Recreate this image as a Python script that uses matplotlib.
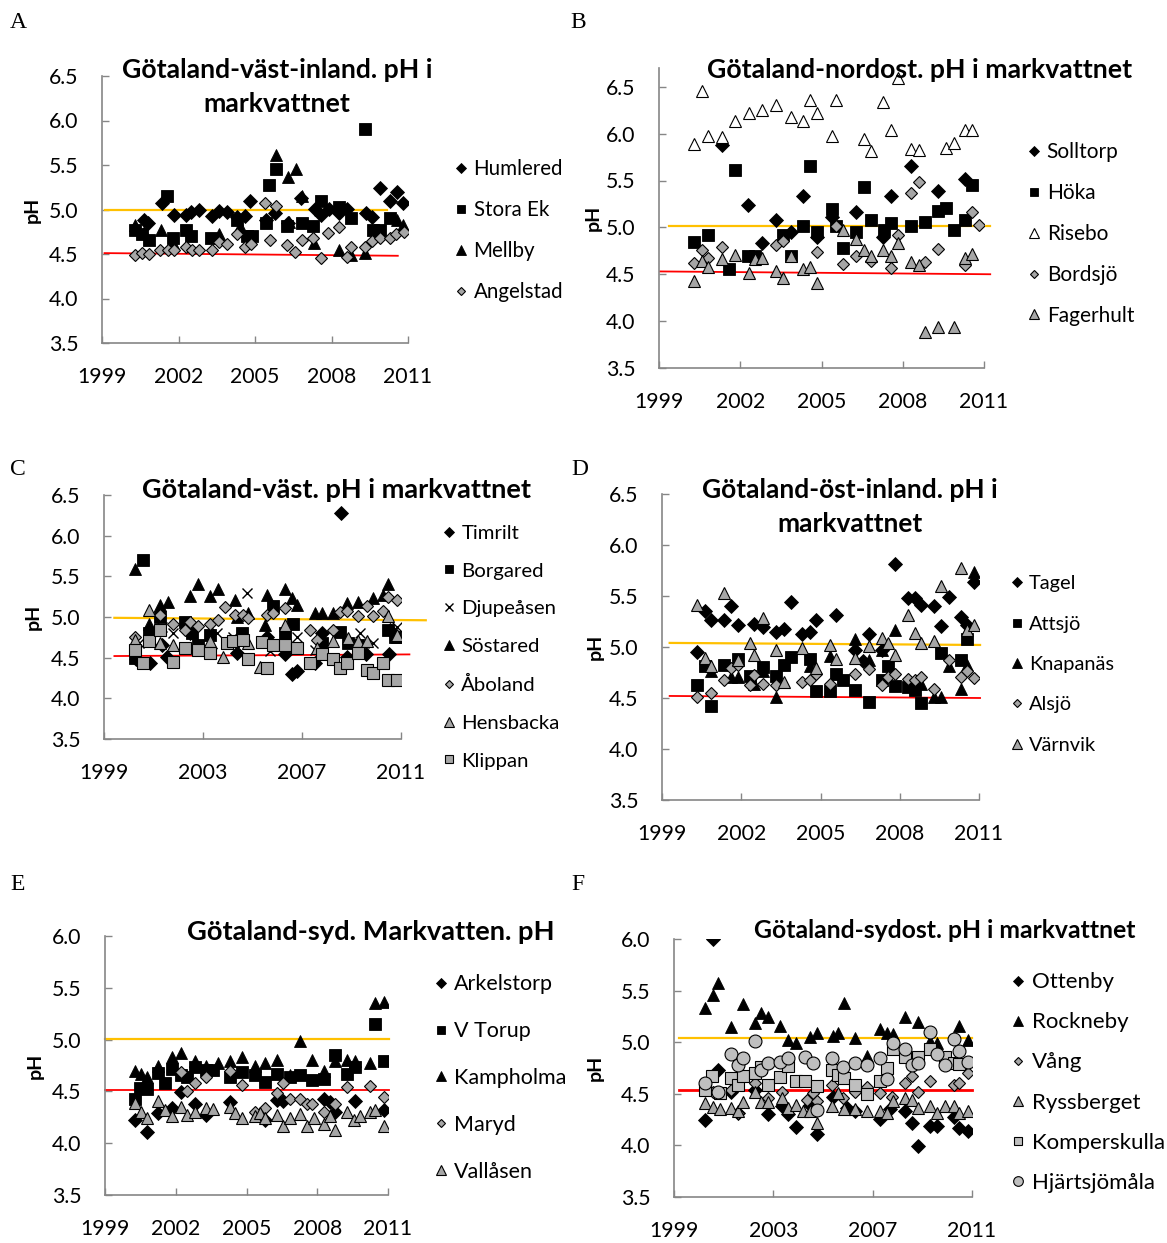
import matplotlib

matplotlib.use('Agg')
import matplotlib.pyplot as plt

plt.rcParams['font.family'] = ['Lato', 'DejaVu Sans']

# ---------------- data (year, pH) ----------------
# A: Götaland-väst-inland
a_humlered_x = [2000.63, 2000.8, 2001.35, 2001.83, 2002.3, 2002.5, 2002.8, 2003.3, 2003.6, 2003.9,
                2004.3, 2004.6, 2004.8, 2005.45, 2005.8, 2006.3, 2006.8, 2007.35, 2007.6, 2007.9,
                2008.3, 2008.6, 2009.35, 2009.6, 2009.9, 2010.3, 2010.55, 2010.8]
a_humlered_y = [4.88, 4.85, 5.07, 4.94, 4.94, 4.97, 5.0, 4.93, 4.98, 4.97,
                4.92, 4.93, 5.09, 4.88, 4.96, 4.85, 5.13, 5.01, 4.94, 5.01,
                4.96, 5.01, 4.96, 4.92, 5.24, 5.09, 5.2, 5.07]
a_storaek_x = [2000.3, 2000.56, 2000.83, 2001.55, 2001.8, 2002.3, 2002.5, 2003.27, 2004.3, 2004.67,
               2004.87, 2005.45, 2005.56, 2005.82, 2006.26, 2006.83, 2007.28, 2007.57, 2008.3, 2008.78,
               2009.3, 2009.63, 2009.9, 2010.28]
a_storaek_y = [4.77, 4.73, 4.66, 5.15, 4.68, 4.77, 4.70, 4.68, 4.88, 4.70,
               4.70, 4.85, 5.27, 5.45, 4.81, 4.85, 4.81, 5.09, 5.03, 4.90,
               5.91, 4.77, 4.77, 4.90]
a_mellby_x = [2000.3, 2000.63, 2001.3, 2001.8, 2003.57, 2004.4, 2005.82, 2006.3, 2006.6, 2006.34,
              2006.83, 2007.3, 2008.3, 2008.78, 2009.3, 2010.55, 2010.8]
a_mellby_y = [4.83, 4.75, 4.77, 4.62, 4.72, 4.81, 5.61, 5.37, 5.46, 4.86,
              5.15, 4.62, 4.55, 4.49, 4.51, 4.88, 4.83]
a_angelstad_x = [2000.3, 2000.56, 2000.83, 2001.28, 2001.6, 2001.83, 2002.29, 2002.52, 2002.82, 2003.3,
                 2003.6, 2003.9, 2004.3, 2004.6, 2004.83, 2005.4, 2005.6, 2005.82, 2006.26, 2006.56,
                 2006.83, 2007.28, 2007.57, 2007.87, 2008.3, 2008.59, 2008.78, 2009.3, 2009.6, 2009.9,
                 2010.28, 2010.54, 2010.83]
a_angelstad_y = [4.49, 4.51, 4.50, 4.55, 4.55, 4.55, 4.58, 4.55, 4.55, 4.55,
                 4.64, 4.61, 4.72, 4.58, 4.61, 5.07, 4.66, 5.04, 4.60, 4.52,
                 4.66, 4.68, 4.46, 4.74, 4.80, 4.47, 4.58, 4.58, 4.65, 4.68,
                 4.68, 4.72, 4.75]
a_orange_x, a_orange_y = [1999.13, 2010.19], [5.0, 5.0]
a_red_x, a_red_y = [1999.1, 2010.6], [4.51, 4.48]

# B: Götaland-nordost
b_solltorp_x = [2001.31, 2002.3, 2002.79, 2003.32, 2003.86, 2004.3, 2004.82, 2005.37, 2006.27, 2007.27,
                2007.58, 2008.3, 2009.3, 2010.29]
b_solltorp_y = [5.88, 5.24, 4.83, 5.08, 4.95, 5.34, 4.90, 5.11, 5.16, 4.90,
                5.34, 5.65, 5.39, 5.52]
b_hoka_x = [2000.29, 2000.8, 2001.58, 2001.8, 2002.3, 2002.54, 2003.59, 2003.86, 2004.3, 2004.57,
            2004.82, 2005.37, 2005.55, 2005.8, 2006.29, 2006.56, 2006.81, 2007.3, 2007.58, 2008.3,
            2008.81, 2009.3, 2009.59, 2009.88, 2010.29, 2010.54]
b_hoka_y = [4.84, 4.92, 4.56, 5.61, 4.70, 4.69, 4.92, 4.70, 5.01, 5.65,
            4.95, 5.20, 5.02, 4.78, 4.95, 5.43, 5.08, 4.97, 5.05, 5.01,
            5.06, 5.18, 5.21, 4.97, 5.08, 5.45]
b_risebo_x = [2000.29, 2000.57, 2000.82, 2001.31, 2001.8, 2002.33, 2002.82, 2003.32, 2003.86, 2004.3,
              2004.57, 2004.82, 2005.37, 2005.55, 2006.56, 2006.81, 2007.27, 2007.58, 2007.83, 2008.3,
              2008.6, 2009.59, 2009.88, 2010.29, 2010.54]
b_risebo_y = [5.89, 6.45, 5.97, 5.96, 6.13, 6.22, 6.25, 6.31, 6.18, 6.13,
              6.36, 6.22, 5.98, 6.36, 5.94, 5.81, 6.34, 6.04, 6.59, 5.84,
              5.83, 5.85, 5.90, 6.04, 6.04]
b_bordsjo_x = [2000.29, 2000.57, 2000.82, 2001.31, 2003.32, 2003.59, 2004.82, 2005.55, 2005.8, 2006.29,
               2006.81, 2007.58, 2007.83, 2008.3, 2008.6, 2008.81, 2009.3, 2010.29, 2010.54, 2010.82]
b_bordsjo_y = [4.62, 4.76, 4.67, 4.79, 4.81, 4.85, 4.74, 5.02, 4.61, 4.70,
               4.64, 4.57, 4.92, 5.37, 5.48, 4.63, 4.77, 4.60, 5.16, 5.03]
b_fagerhult_x = [2000.29, 2000.57, 2000.82, 2001.31, 2001.8, 2002.33, 2002.54, 2002.82, 2003.32, 2003.59,
                 2003.86, 2004.3, 2004.57, 2004.82, 2005.8, 2006.29, 2006.56, 2006.81, 2007.27, 2007.58,
                 2007.83, 2008.3, 2008.6, 2008.81, 2009.3, 2009.88, 2010.29, 2010.54]
b_fagerhult_y = [4.43, 4.64, 4.58, 4.66, 4.71, 4.51, 4.66, 4.67, 4.54, 4.46,
                 4.70, 4.56, 4.58, 4.41, 4.97, 4.88, 4.76, 4.69, 4.76, 4.70,
                 4.83, 4.63, 4.60, 3.88, 3.94, 3.94, 4.67, 4.72]
b_orange_x, b_orange_y = [1999.38, 2011.23], [5.02, 5.02]
b_red_x, b_red_y = [1999.04, 2011.23], [4.53, 4.50]

# C: Götaland-väst
c_timrilt_x = [2000.3, 2000.86, 2001.33, 2001.53, 2002.47, 2003.3, 2004.36, 2005.57, 2006.31, 2006.58,
               2006.78, 2007.52, 2007.8, 2008.56, 2008.8, 2009.6, 2010.5, 2010.55]
c_timrilt_y = [4.48, 4.43, 4.66, 4.51, 4.80, 4.62, 4.56, 4.76, 4.54, 4.30,
               4.33, 4.43, 4.80, 6.28, 4.51, 4.55, 4.55, 4.84]
c_borgared_x = [2000.25, 2000.56, 2000.8, 2001.26, 2002.27, 2002.54, 2002.81, 2003.28, 2003.95, 2004.56,
                2005.81, 2006.31, 2006.65, 2007.8, 2008.54, 2008.87, 2009.27, 2010.49, 2010.76]
c_borgared_y = [4.49, 5.70, 4.80, 5.00, 4.94, 4.80, 4.66, 4.78, 4.68, 4.80,
                5.13, 4.80, 4.92, 4.68, 4.82, 4.68, 4.66, 4.84, 4.76]
c_djupeasen_x = [2000.4, 2001.33, 2001.8, 2003.55, 2004.22, 2004.76, 2005.7, 2006.78, 2007.52, 2009.34,
                 2009.88, 2010.82]
c_djupeasen_y = [4.68, 4.88, 4.80, 4.80, 4.76, 5.29, 4.58, 4.76, 4.60, 4.80,
                 4.68, 4.88]
c_sostared_x = [2000.25, 2000.8, 2001.26, 2001.6, 2002.47, 2002.81, 2003.28, 2003.62, 2004.29, 2004.36,
                2004.83, 2005.5, 2005.57, 2006.31, 2006.58, 2006.78, 2007.52, 2007.8, 2008.27, 2008.8,
                2009.27, 2009.88, 2010.29, 2010.49, 2010.82]
c_sostared_y = [5.59, 4.92, 5.15, 5.18, 5.26, 5.40, 5.26, 5.35, 5.21, 5.00,
                5.05, 4.90, 5.27, 5.35, 5.23, 5.15, 5.05, 5.05, 5.05, 5.17,
                5.19, 5.23, 5.27, 5.40, 4.76]
c_aboland_x = [2000.25, 2001.26, 2001.8, 2002.27, 2002.47, 2002.81, 2003.28, 2003.62, 2003.89, 2004.29,
               2004.6, 2004.83, 2005.57, 2005.84, 2006.31, 2007.32, 2007.59, 2008.27, 2008.54, 2008.8,
               2009.27, 2009.61, 2009.88, 2010.29, 2010.49, 2010.82]
c_aboland_y = [4.76, 5.03, 4.92, 4.84, 4.94, 4.89, 4.92, 4.96, 5.12, 5.02,
               5.02, 4.99, 5.02, 5.05, 5.11, 4.84, 4.72, 4.84, 5.06, 5.07,
               5.01, 5.14, 5.01, 5.07, 5.25, 5.21]
c_hensbacka_x = [2000.25, 2000.8, 2001.26, 2001.8, 2003.28, 2003.82, 2004.83, 2005.3, 2006.31, 2007.59,
                 2008.27, 2008.87, 2009.27, 2009.61, 2010.49, 2010.82]
c_hensbacka_y = [4.72, 5.08, 4.68, 4.66, 4.70, 4.51, 4.68, 4.39, 4.90, 4.62,
                 4.70, 4.74, 4.70, 4.70, 5.01, 4.78]
c_klippan_x = [2000.25, 2000.59, 2000.8, 2001.26, 2001.78, 2002.27, 2002.81, 2003.28, 2003.95, 2004.22,
               2004.6, 2004.83, 2005.37, 2005.57, 2005.84, 2006.31, 2006.78, 2007.32, 2007.8, 2008.27,
               2008.54, 2008.8, 2009.27, 2009.61, 2009.88, 2010.29, 2010.49, 2010.82]
c_klippan_y = [4.60, 4.43, 4.70, 4.84, 4.45, 4.62, 4.60, 4.56, 4.68, 4.70,
               4.72, 4.48, 4.69, 4.37, 4.66, 4.66, 4.62, 4.44, 4.54, 4.48,
               4.37, 4.43, 4.56, 4.35, 4.31, 4.44, 4.23, 4.22]
c_orange_x, c_orange_y = [1999.42, 2012.0], [4.99, 4.96]
c_red_x, c_red_y = [1999.42, 2011.34], [4.52, 4.54]

# D: Götaland-öst-inland
d_tagel_x = [2000.32, 2000.61, 2000.85, 2001.33, 2001.61, 2001.86, 2002.49, 2002.82, 2003.32, 2003.6,
             2003.88, 2004.29, 2004.61, 2004.84, 2005.59, 2006.31, 2006.59, 2006.82, 2007.32, 2007.82,
             2008.33, 2008.58, 2008.79, 2009.31, 2009.56, 2009.87, 2010.31, 2010.53, 2010.82]
d_tagel_y = [4.95, 5.35, 5.26, 5.26, 5.40, 5.22, 5.23, 5.20, 5.15, 5.18,
             5.44, 5.13, 5.15, 5.26, 5.31, 4.97, 4.86, 5.13, 4.97, 5.81,
             5.48, 5.48, 5.41, 5.40, 5.21, 5.49, 5.29, 5.22, 5.64]
d_attsjo_x = [2000.32, 2000.61, 2000.85, 2001.33, 2001.86, 2002.32, 2002.82, 2003.32, 2003.6, 2003.88,
              2004.61, 2004.84, 2005.37, 2005.59, 2005.87, 2006.31, 2006.82, 2007.32, 2007.57, 2007.82,
              2008.33, 2008.58, 2008.79, 2009.56, 2010.31, 2010.53]
d_attsjo_y = [4.63, 4.81, 4.42, 4.82, 4.88, 4.72, 4.80, 4.72, 4.82, 4.90,
              4.88, 4.57, 4.57, 4.74, 4.68, 4.58, 4.46, 4.68, 4.81, 4.62,
              4.61, 4.58, 4.45, 4.94, 4.87, 5.08]
d_knapanas_x = [2000.85, 2001.61, 2001.86, 2002.49, 2002.82, 2003.32, 2004.61, 2005.37, 2006.31, 2006.82,
                2007.32, 2007.82, 2008.79, 2009.31, 2009.56, 2009.87, 2010.31, 2010.53, 2010.82]
d_knapanas_y = [4.76, 4.71, 4.71, 4.64, 4.76, 4.51, 4.81, 4.91, 5.08, 4.87,
                4.97, 5.17, 4.64, 4.51, 4.51, 4.81, 4.59, 4.82, 5.74]
d_alsjo_x = [2000.32, 2000.85, 2001.33, 2001.61, 2001.86, 2002.32, 2002.49, 2002.82, 2003.32, 2004.29,
             2004.61, 2004.84, 2005.37, 2006.31, 2006.82, 2007.32, 2007.57, 2007.82, 2008.33, 2008.58,
             2008.79, 2009.31, 2009.87, 2010.31, 2010.53, 2010.82]
d_alsjo_y = [4.51, 4.55, 4.68, 4.79, 4.82, 4.63, 4.73, 4.64, 4.63, 4.66,
             4.68, 4.74, 4.64, 4.74, 4.78, 4.63, 4.71, 4.74, 4.69, 4.68,
             4.71, 4.59, 4.87, 4.71, 4.76, 4.70]
d_varnvik_x = [2000.32, 2000.61, 2000.85, 2001.33, 2001.86, 2002.32, 2002.49, 2002.82, 2003.32, 2003.6,
               2004.29, 2004.84, 2005.37, 2005.59, 2006.31, 2006.82, 2007.32, 2007.57, 2007.82, 2008.33,
               2008.58, 2008.79, 2009.31, 2009.56, 2010.31, 2010.53, 2010.82]
d_varnvik_y = [5.41, 4.89, 4.81, 5.53, 4.87, 5.04, 4.92, 5.28, 4.97, 4.66,
               4.99, 4.79, 5.02, 4.88, 4.89, 5.01, 5.09, 5.04, 4.92, 5.31,
               5.14, 5.04, 5.06, 5.60, 5.77, 5.17, 5.22]
d_orange_x, d_orange_y = [1999.29, 2011.04], [5.04, 5.02]
d_red_x, d_red_y = [1999.29, 2011.04], [4.52, 4.50]

# E: Götaland-syd
e_arkelstorp_x = [2000.26, 2000.76, 2001.25, 2001.82, 2002.24, 2002.81, 2003.28, 2004.3, 2005.79, 2006.28,
                  2006.56, 2008.27, 2008.55, 2008.76, 2009.61, 2010.82]
e_arkelstorp_y = [4.22, 4.11, 4.29, 4.34, 4.49, 4.38, 4.27, 4.40, 4.22, 4.42,
                  4.41, 4.43, 4.40, 4.30, 4.41, 4.32]
e_vtorup_x = [2000.26, 2000.47, 2000.76, 2001.25, 2001.54, 2001.82, 2002.24, 2002.46, 2002.81, 2003.28,
              2003.59, 2004.3, 2004.79, 2005.36, 2005.79, 2006.28, 2006.85, 2007.27, 2007.77, 2008.27,
              2008.76, 2009.26, 2009.61, 2010.46, 2010.82]
e_vtorup_y = [4.43, 4.53, 4.52, 4.68, 4.58, 4.72, 4.66, 4.64, 4.74, 4.71,
              4.71, 4.64, 4.69, 4.66, 4.59, 4.67, 4.64, 4.66, 4.61, 4.62,
              4.85, 4.67, 4.74, 5.15, 4.79]
e_kampholma_x = [2000.26, 2000.54, 2000.76, 2001.25, 2001.82, 2002.24, 2002.81, 2003.28, 2003.8, 2004.3,
                 2004.79, 2005.36, 2005.79, 2006.28, 2006.85, 2007.27, 2007.77, 2008.27, 2008.76, 2009.26,
                 2009.61, 2010.25, 2010.46, 2010.82]
e_kampholma_y = [4.70, 4.67, 4.64, 4.75, 4.83, 4.87, 4.79, 4.75, 4.77, 4.79,
                 4.83, 4.75, 4.77, 4.80, 4.66, 4.99, 4.80, 4.70, 4.79, 4.80,
                 4.79, 4.77, 5.35, 5.36]
e_maryd_x = [2002.24, 2002.46, 2002.81, 2003.28, 2004.3, 2004.79, 2005.36, 2005.79, 2006.28, 2006.56,
             2006.85, 2007.27, 2007.56, 2007.77, 2008.27, 2008.76, 2009.26, 2010.25, 2010.82]
e_maryd_y = [4.69, 4.50, 4.58, 4.64, 4.70, 4.56, 4.30, 4.34, 4.48, 4.58,
             4.43, 4.43, 4.38, 4.38, 4.30, 4.38, 4.54, 4.55, 4.45]
e_vallasen_x = [2000.26, 2000.54, 2000.76, 2001.25, 2001.54, 2001.82, 2002.24, 2002.46, 2002.81, 2003.28,
                2003.59, 2004.3, 2004.52, 2004.79, 2005.36, 2005.57, 2005.79, 2006.28, 2006.56, 2006.85,
                2007.27, 2007.56, 2007.85, 2008.27, 2008.55, 2008.76, 2009.26, 2009.54, 2009.82, 2010.25,
                2010.46, 2010.82]
e_vallasen_y = [4.39, 4.30, 4.24, 4.41, 4.32, 4.26, 4.35, 4.27, 4.30, 4.34,
                4.33, 4.35, 4.29, 4.24, 4.26, 4.29, 4.24, 4.27, 4.17, 4.24,
                4.28, 4.17, 4.24, 4.19, 4.26, 4.13, 4.30, 4.22, 4.26, 4.30,
                4.32, 4.17]
e_orange_x, e_orange_y = [1999.0, 2011.06], [5.01, 5.01]
e_red_x, e_red_y = [1999.0, 2011.06], [4.51, 4.51]

# F: Götaland-sydost
f_ottenby_x = [2000.26, 2000.57, 2000.78, 2001.31, 2001.58, 2002.26, 2002.79, 2003.33, 2003.6, 2003.91,
               2004.48, 2004.77, 2005.42, 2005.96, 2006.29, 2007.3, 2007.7, 2008.31, 2008.58, 2008.82,
               2009.32, 2009.61, 2010.26, 2010.49, 2010.83]
f_ottenby_y = [4.25, 6.00, 4.73, 4.52, 4.31, 4.54, 4.30, 4.38, 4.30, 4.18,
               4.39, 4.11, 4.47, 4.36, 4.33, 4.26, 4.35, 4.33, 4.22, 3.99,
               4.19, 4.19, 4.28, 4.17, 4.14]
f_rockneby_x = [2000.26, 2000.57, 2000.78, 2001.31, 2001.78, 2002.26, 2002.52, 2002.79, 2003.26, 2003.6,
                2003.91, 2004.48, 2004.77, 2005.42, 2005.62, 2005.85, 2006.29, 2006.76, 2007.3, 2007.57,
                2007.81, 2008.31, 2008.82, 2009.32, 2009.61, 2010.49, 2010.83]
f_rockneby_y = [5.33, 5.46, 5.57, 5.15, 5.37, 5.19, 5.28, 5.24, 5.16, 5.02,
                4.99, 5.05, 5.09, 5.06, 5.09, 5.38, 5.04, 4.87, 5.13, 5.09,
                5.08, 5.24, 5.20, 5.01, 4.99, 5.16, 5.02]
f_vang_x = [2000.57, 2001.31, 2001.58, 2002.26, 2002.79, 2003.33, 2004.34, 2004.6, 2004.77, 2005.35,
            2005.82, 2006.29, 2006.76, 2007.3, 2007.77, 2008.31, 2008.58, 2008.82, 2009.32, 2010.26,
            2010.49, 2010.83]
f_vang_y = [4.52, 4.54, 4.31, 4.60, 4.46, 4.52, 4.44, 4.51, 4.43, 4.59,
            4.46, 4.52, 4.57, 4.51, 4.47, 4.60, 4.67, 4.52, 4.62, 4.59,
            4.60, 4.70]
f_ryssberget_x = [2000.26, 2000.57, 2000.84, 2001.31, 2001.58, 2001.78, 2002.26, 2002.52, 2002.79, 2003.33,
                  2003.6, 2003.91, 2004.2, 2004.48, 2004.77, 2005.35, 2005.62, 2005.85, 2006.29, 2006.76,
                  2007.3, 2007.57, 2007.81, 2008.31, 2008.58, 2008.82, 2009.32, 2009.61, 2009.92, 2010.26,
                  2010.49, 2010.83]
f_ryssberget_y = [4.41, 4.37, 4.35, 4.36, 4.33, 4.42, 4.52, 4.42, 4.42, 4.46,
                  4.36, 4.39, 4.33, 4.33, 4.22, 4.38, 4.51, 4.35, 4.35, 4.33,
                  4.33, 4.31, 4.43, 4.46, 4.44, 4.36, 4.38, 4.31, 4.38, 4.38,
                  4.31, 4.33]
f_komperskulla_x = [2000.26, 2000.55, 2000.84, 2001.31, 2001.58, 2001.78, 2002.26, 2002.52, 2002.79, 2003.26,
                    2003.6, 2003.91, 2004.27, 2004.77, 2005.35, 2005.62, 2005.85, 2006.29, 2006.76, 2007.3,
                    2007.57, 2007.81, 2008.31, 2008.82, 2009.32, 2009.92, 2010.26, 2010.49]
f_komperskulla_y = [4.54, 4.67, 4.51, 4.65, 4.59, 4.67, 4.70, 4.76, 4.59, 4.66,
                    4.77, 4.62, 4.62, 4.58, 4.73, 4.68, 4.65, 4.59, 4.50, 4.62,
                    4.75, 4.93, 4.86, 4.86, 4.93, 4.86, 4.80, 4.79]
f_hjartsjomala_x = [2000.26, 2000.78, 2001.31, 2001.58, 2001.78, 2002.26, 2002.52, 2002.79, 2003.26, 2003.6,
                    2004.27, 2004.6, 2004.77, 2005.35, 2005.82, 2006.29, 2006.76, 2007.3, 2007.57, 2007.81,
                    2008.31, 2008.58, 2008.82, 2009.32, 2009.61, 2009.92, 2010.26, 2010.49, 2010.83]
f_hjartsjomala_y = [4.60, 4.52, 4.89, 4.78, 4.85, 5.01, 4.73, 4.80, 4.81, 4.85,
                    4.86, 4.80, 4.34, 4.85, 4.76, 4.80, 4.78, 4.85, 4.64, 4.99,
                    4.93, 4.78, 4.80, 5.10, 4.89, 4.78, 5.03, 4.91, 4.81]
f_orange_x, f_orange_y = [1999.19, 2011.0], [5.04, 5.04]
f_red_x, f_red_y = [1999.19, 2011.0], [4.54, 4.54]

# ---------------- styling ----------------
W, H = 1167, 1243
GRAY_AX = '#868686'
STY = {
    'bd': dict(marker='D', ms=6.8, mfc='black', mec='black', mew=0.6),
    'bs': dict(marker='s', ms=8.3, mfc='black', mec='black', mew=0.6),
    'bt': dict(marker='^', ms=9.3, mfc='black', mec='black', mew=0.6),
    'gd': dict(marker='D', ms=6.0, mfc='#a6a6a6', mec='black', mew=0.8),
    'gt': dict(marker='^', ms=9.0, mfc='#a6a6a6', mec='black', mew=0.8),
    'wt': dict(marker='^', ms=9.0, mfc='white', mec='black', mew=0.8),
    'x': dict(marker='x', ms=7.5, mfc='black', mec='black', mew=1.0),
    'gs': dict(marker='s', ms=8.3, mfc='#a6a6a6', mec='black', mew=0.8),
    'ls': dict(marker='s', ms=8.3, mfc='#bfbfbf', mec='black', mew=0.8),
    'lo': dict(marker='o', ms=9.3, mfc='#bfbfbf', mec='black', mew=0.8),
}

fig = plt.figure(figsize=(W / 100, H / 100), dpi=100)


def panel(box, ylim, yticks, xticks, series, refs, title, tpos, tsize,
          lpos, pitch, lsize, ylab_x, letter, letter_pos):
    left, right, top, bottom = box
    ax = fig.add_axes([left / W, 1 - bottom / H, (right - left) / W, (bottom - top) / H])
    for x, y, label, st in series:
        ax.plot(x, y, ls='none', label=label, zorder=3, **STY[st])
    for x, y, color, lw in refs:
        ax.plot(x, y, color=color, lw=lw, clip_on=False, zorder=2)

    ax.set_xlim(1999, 2011)
    ax.set_ylim(*ylim)
    ax.set_xticks(xticks)
    ax.set_yticks(yticks)
    ax.set_yticklabels([f'{v:.1f}' for v in yticks])
    for s in ['top', 'right']:
        ax.spines[s].set_visible(False)
    for s in ['left', 'bottom']:
        ax.spines[s].set_color(GRAY_AX)
        ax.spines[s].set_linewidth(1.2)
    ax.tick_params(axis='both', direction='in', length=5, width=1.0,
                   labelsize=15.3, colors='black')
    ax.tick_params(axis='both', color=GRAY_AX)
    ax.tick_params(axis='y', pad=17)
    ax.tick_params(axis='x', pad=17)

    fs_px = lsize * 100 / 72
    ax.legend(loc='center left', bbox_to_anchor=(lpos[0] / W, 1 - lpos[1] / H),
              bbox_transform=fig.transFigure, frameon=False, fontsize=lsize,
              handlelength=0.55, handletextpad=0.35, borderpad=0, borderaxespad=0,
              labelspacing=(pitch - 0.87 * fs_px) / fs_px, markerscale=0.75)

    fig.text(tpos[0] / W, 1 - tpos[1] / H, title, ha='center', va='center',
             fontsize=tsize, fontweight='bold', linespacing=1.53)
    fig.text(ylab_x / W, 1 - (top + bottom) / 2 / H, 'pH', rotation=90, ha='center',
             va='center', fontsize=14, fontweight='bold')
    fig.text(letter_pos[0] / W, 1 - letter_pos[1] / H, letter, ha='center', va='center',
             fontsize=17, family='Liberation Serif')
    return ax


ORANGE, RED = '#ffc000', '#ff0000'
Y65 = [3.5, 4.0, 4.5, 5.0, 5.5, 6.0, 6.5]
Y60 = [3.5, 4.0, 4.5, 5.0, 5.5, 6.0]
X3 = [1999, 2002, 2005, 2008, 2011]
X4 = [1999, 2003, 2007, 2011]

panel((102, 408, 76, 343), (3.5, 6.5), Y65, X3,
      [(a_humlered_x, a_humlered_y, 'Humlered', 'bd'),
       (a_storaek_x, a_storaek_y, 'Stora Ek', 'bs'),
       (a_mellby_x, a_mellby_y, 'Mellby', 'bt'),
       (a_angelstad_x, a_angelstad_y, 'Angelstad', 'gd')],
      [(a_orange_x, a_orange_y, ORANGE, 1.6), (a_red_x, a_red_y, RED, 1.3)],
      'Götaland-väst-inland. pH i\nmarkvattnet', (277, 87), 19.2,
      (455, 230.5), 39, 14.8, 32, 'A', (18, 22))

panel((659, 984, 68, 368), (3.5, 6.7), Y65, X3,
      [(b_solltorp_x, b_solltorp_y, 'Solltorp', 'bd'),
       (b_hoka_x, b_hoka_y, 'Höka', 'bs'),
       (b_risebo_x, b_risebo_y, 'Risebo', 'wt'),
       (b_bordsjo_x, b_bordsjo_y, 'Bordsjö', 'gd'),
       (b_fagerhult_x, b_fagerhult_y, 'Fagerhult', 'gt')],
      [(b_orange_x, b_orange_y, ORANGE, 1.6), (b_red_x, b_red_y, RED, 1.3)],
      'Götaland-nordost. pH i markvattnet', (920, 70), 19.2,
      (1028, 234), 39, 15, 593, 'B', (578, 22))

panel((104, 401, 495, 739), (3.5, 6.5), Y65, X4,
      [(c_timrilt_x, c_timrilt_y, 'Timrilt', 'bd'),
       (c_borgared_x, c_borgared_y, 'Borgared', 'bs'),
       (c_djupeasen_x, c_djupeasen_y, 'Djupeåsen', 'x'),
       (c_sostared_x, c_sostared_y, 'Söstared', 'bt'),
       (c_aboland_x, c_aboland_y, 'Åboland', 'gd'),
       (c_hensbacka_x, c_hensbacka_y, 'Hensbacka', 'gt'),
       (c_klippan_x, c_klippan_y, 'Klippan', 'gs')],
      [(c_orange_x, c_orange_y, ORANGE, 1.6), (c_red_x, c_red_y, RED, 1.3)],
      'Götaland-väst. pH i markvattnet', (337, 490), 19.5,
      (443, 647), 38.3, 14.7, 33, 'C', (18, 470))

panel((662, 979, 494, 800), (3.5, 6.5), Y65, X3,
      [(d_tagel_x, d_tagel_y, 'Tagel', 'bd'),
       (d_attsjo_x, d_attsjo_y, 'Attsjö', 'bs'),
       (d_knapanas_x, d_knapanas_y, 'Knapanäs', 'bt'),
       (d_alsjo_x, d_alsjo_y, 'Alsjö', 'gd'),
       (d_varnvik_x, d_varnvik_y, 'Värnvik', 'gt')],
      [(d_orange_x, d_orange_y, ORANGE, 1.6), (d_red_x, d_red_y, RED, 1.3)],
      'Götaland-öst-inland. pH i\nmarkvattnet', (850, 507), 19,
      (1011, 664.5), 40.75, 14.4, 595, 'D', (580, 470))

panel((105, 388, 936, 1195), (3.5, 6.0), Y60, X3,
      [(e_arkelstorp_x, e_arkelstorp_y, 'Arkelstorp', 'bd'),
       (e_vtorup_x, e_vtorup_y, 'V Torup', 'bs'),
       (e_kampholma_x, e_kampholma_y, 'Kampholma', 'bt'),
       (e_maryd_x, e_maryd_y, 'Maryd', 'gd'),
       (e_vallasen_x, e_vallasen_y, 'Vallåsen', 'gt')],
      [(e_orange_x, e_orange_y, ORANGE, 1.6), (e_red_x, e_red_y, RED, 1.3)],
      'Götaland-syd. Markvatten. pH', (371, 932), 19.6,
      (435, 1078), 45.5, 15.5, 35, 'E', (18, 884))

panel((674, 972, 939, 1197), (3.5, 6.0), Y60, X4,
      [(f_ottenby_x, f_ottenby_y, 'Ottenby', 'bd'),
       (f_rockneby_x, f_rockneby_y, 'Rockneby', 'bt'),
       (f_vang_x, f_vang_y, 'Vång', 'gd'),
       (f_ryssberget_x, f_ryssberget_y, 'Ryssberget', 'gt'),
       (f_komperskulla_x, f_komperskulla_y, 'Komperskulla', 'ls'),
       (f_hjartsjomala_x, f_hjartsjomala_y, 'Hjärtsjömåla', 'lo')],
      [(f_orange_x, f_orange_y, ORANGE, 1.6), (f_red_x, f_red_y, RED, 2.0)],
      'Götaland-sydost. pH i markvattnet', (945, 930), 17.8,
      (1012, 1082.5), 39.4, 16, 595, 'F', (578, 884))

fig.savefig('out.png', dpi=100)
